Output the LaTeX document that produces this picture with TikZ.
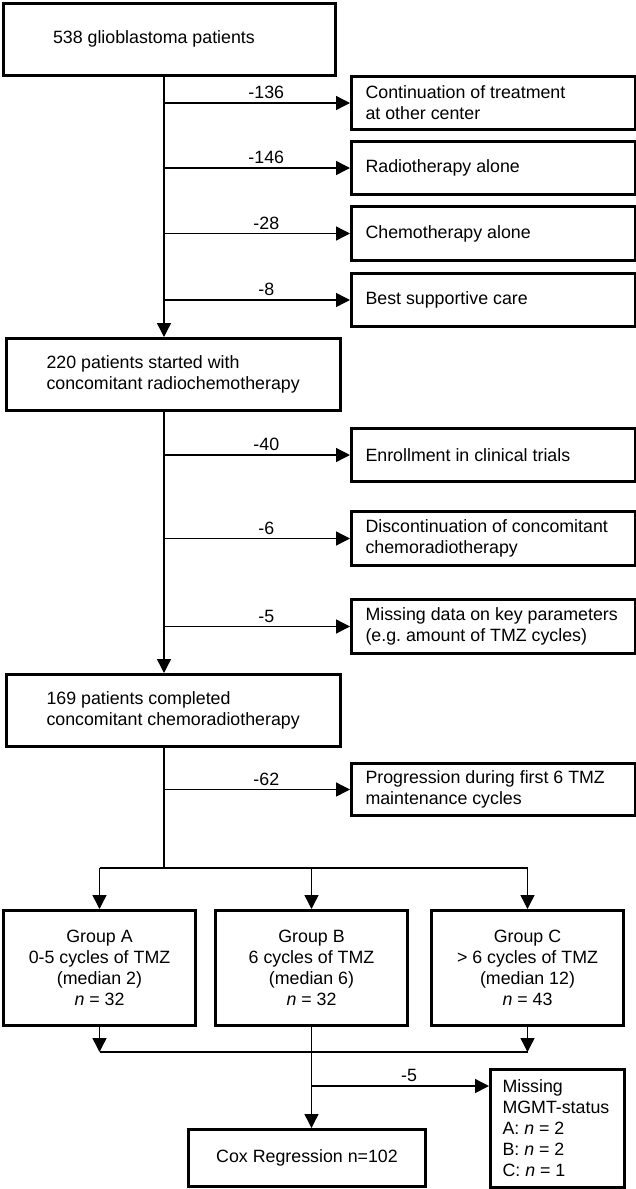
\documentclass[tikz,border=0pt]{standalone}
\usepackage{fontspec}
\setmainfont{Liberation Sans}
\usetikzlibrary{arrows.meta}

\tikzset{
  mainbox/.style={draw, line width=3pt, anchor=north west, inner xsep=40pt, text width=254pt, minimum height=72pt, align=flush left},
  sidebox/.style={draw, line width=3pt, anchor=north west, inner xsep=14pt, text width=256pt, minimum height=54pt, align=flush left},
  groupbox/.style={draw, line width=3pt, anchor=north west, inner xsep=10pt, text width=172pt, minimum height=115pt, align=flush center},
  flow/.style={line width=1.4pt, -{Triangle[length=14pt, width=14pt]}},
  count/.style={above, pos=0.55}
}

\begin{document}
\begin{tikzpicture}[x=1pt, y=-1pt, font=\fontsize{17.8}{21}\selectfont]
    \useasboundingbox (0,0) rectangle (636,1189);

    % Main boxes
    \node[mainbox, inner xsep=50pt, text width=232pt] (start) at (1.5,1.5) {538 glioblastoma patients};
    \node[mainbox] (started) at (5,337) {220 patients started with\\concomitant radiochemotherapy};
    \node[mainbox] (completed) at (5,673) {169 patients completed\\concomitant chemoradiotherapy};

    % Excluded patients
    \node[sidebox, minimum height=53pt] (cont) at (350,75) {Continuation of treatment\\at other center};
    \node[sidebox, minimum height=53pt] (radio) at (350,140) {Radiotherapy alone};
    \node[sidebox] (chemo) at (350,205) {Chemotherapy alone};
    \node[sidebox, minimum height=53pt] (bsc) at (350,272) {Best supportive care};
    \node[sidebox, minimum height=53pt] (trials) at (350,427) {Enrollment in clinical trials};
    \node[sidebox] (discont) at (350,510) {Discontinuation of concomitant\\chemoradiotherapy};
    \node[sidebox] (missing) at (350,598) {Missing data on key parameters\\(e.g.\ amount of TMZ cycles)};
    \node[sidebox, minimum height=52pt] (prog) at (350,762) {Progression during first 6 TMZ\\maintenance cycles};

    % Treatment groups
    \node[groupbox] (groupA) at (2,909) {Group A\\0-5 cycles of TMZ\\(median 2)\\\textit{n} = 32};
    \node[groupbox] (groupB) at (214,909) {Group B\\6 cycles of TMZ\\(median 6)\\\textit{n} = 32};
    \node[groupbox] (groupC) at (430,909) {Group C\\> 6 cycles of TMZ\\(median 12)\\\textit{n} = 43};

    % Analysis
    \node[groupbox, text width=217pt, minimum height=57pt] (cox) at (187,1128) {Cox Regression n=102};
    \node[groupbox, align=flush left, inner xsep=12pt, text width=110pt, minimum height=118pt] (mgmt) at (489,1068) {Missing\\\mbox{MGMT-status}\\A: \textit{n} = 2\\B: \textit{n} = 2\\C: \textit{n} = 1};

    \coordinate (spine) at (164,0);
    \coordinate (split) at (0,868);
    \coordinate (merge) at (0,1052);
    \coordinate (cut) at (groupB.south |- 0,1086);

    % Main flow
    \draw[flow] (spine |- start.south) -- (spine |- started.north);
    \draw[flow] (spine |- started.south) -- (spine |- completed.north);
    \draw[line width=1.4pt] (spine |- completed.south) -- (spine |- split);

    % Exclusions
    \draw[flow] (spine |- cont.west) -- (cont.west) node[count] {-136};
    \draw[flow] (spine |- radio.west) -- (radio.west) node[count] {-146};
    \draw[flow] (spine |- chemo.west) -- (chemo.west) node[count] {-28};
    \draw[flow] (spine |- bsc.west) -- (bsc.west) node[count] {-8};
    \draw[flow] (spine |- trials.west) -- (trials.west) node[count] {-40};
    \draw[flow] (spine |- discont.west) -- (discont.west) node[count] {-6};
    \draw[flow] (spine |- missing.west) -- (missing.west) node[count] {-5};
    \draw[flow] (spine |- prog.west) -- (prog.west) node[count] {-62};

    % Split into groups
    \draw[line width=1.4pt] (groupA.north |- split) -- (groupC.north |- split);
    \draw[flow] (groupA.north |- split) -- (groupA.north);
    \draw[flow] (groupB.north |- split) -- (groupB.north);
    \draw[flow] (groupC.north |- split) -- (groupC.north);

    % Merge and final analysis
    \draw[flow] (groupA.south) -- (groupA.south |- merge);
    \draw[flow] (groupC.south) -- (groupC.south |- merge);
    \draw[line width=1.4pt] (groupA.south |- merge) -- (groupC.south |- merge);
    \draw[flow] (groupB.south) -- (groupB.south |- cox.north);
    \draw[flow] (cut) -- (cut -| mgmt.west) node[count] {-5};
\end{tikzpicture}
\end{document}
